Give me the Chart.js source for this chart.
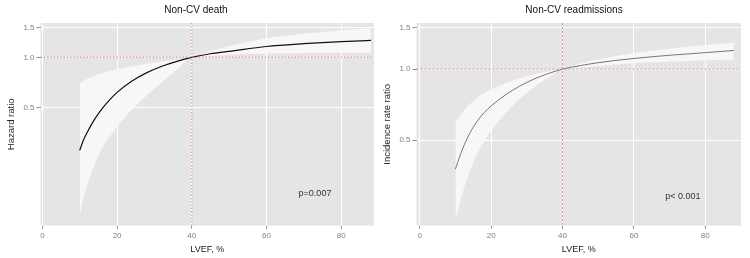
<!DOCTYPE html>
<html>
<head>
<meta charset="utf-8">
<script src="https://cdn.jsdelivr.net/npm/chart.js@4.4.1/dist/chart.umd.min.js"></script>
<style>
  body { margin: 0; background: #fff; }
  #wrap { display: flex; width: 750px; height: 258px; }
  canvas { display: block; }
</style>
</head>
<body>
<div id="wrap">
  <canvas id="death" width="375" height="258"></canvas>
  <canvas id="readm" width="375" height="258"></canvas>
</div>
<script>
var lvef = [10, 11, 12, 14, 16, 18, 20, 24, 28, 32, 36, 40, 45, 50, 60, 70, 80, 88];

// Non-CV death: hazard ratio with confidence band
var deathHR = [0.28, 0.323, 0.358, 0.429, 0.496, 0.559, 0.619, 0.723, 0.811, 0.885, 0.947, 1.0, 1.05, 1.085, 1.16, 1.205, 1.24, 1.26];
var deathLo = [0.115, 0.147, 0.175, 0.232, 0.286, 0.337, 0.388, 0.49, 0.596, 0.713, 0.847, 1.0, 1.02, 1.04, 1.055, 1.06, 1.065, 1.065];
var deathHi = [0.70, 0.725, 0.745, 0.78, 0.808, 0.83, 0.85, 0.885, 0.915, 0.945, 0.97, 1.0, 1.09, 1.165, 1.30, 1.38, 1.445, 1.49];

// Non-CV readmissions: incidence rate ratio with confidence band
var readmIRR = [0.376, 0.417, 0.458, 0.534, 0.598, 0.652, 0.698, 0.777, 0.847, 0.907, 0.957, 1.0, 1.035, 1.065, 1.11, 1.145, 1.175, 1.20];
var readmLo = [0.225, 0.262, 0.298, 0.368, 0.433, 0.493, 0.548, 0.65, 0.747, 0.837, 0.921, 1.0, 1.015, 1.03, 1.06, 1.075, 1.09, 1.10];
var readmHi = [0.595, 0.628, 0.658, 0.71, 0.753, 0.79, 0.82, 0.871, 0.914, 0.949, 0.977, 1.0, 1.06, 1.10, 1.17, 1.22, 1.265, 1.295];

var xTicks = [0, 20, 40, 60, 80];
var yTicks = [0.5, 1.0, 1.5];

function pts(ys) {
  return lvef.map(function (x, i) { return { x: x, y: ys[i] }; });
}

var FONT = "'Liberation Sans', Arial, sans-serif";

var panelBg = {
  id: 'panelBg',
  beforeDraw: function (chart) {
    var a = chart.chartArea, ctx = chart.ctx;
    ctx.save();
    ctx.fillStyle = '#e5e5e5';
    ctx.fillRect(a.left, a.top, a.right - a.left, a.bottom - a.top);
    ctx.restore();
  }
};

var refLines = {
  id: 'refLines',
  afterDatasetsDraw: function (chart, args, opts) {
    var a = chart.chartArea, ctx = chart.ctx;
    var px = chart.scales.x.getPixelForValue(40);
    var py = chart.scales.y.getPixelForValue(1);
    ctx.save();
    ctx.strokeStyle = opts.color;
    ctx.lineWidth = opts.width;
    ctx.setLineDash(opts.dash);
    ctx.beginPath();
    ctx.moveTo(a.left, py); ctx.lineTo(a.right, py);
    ctx.moveTo(px, a.top); ctx.lineTo(px, a.bottom);
    ctx.stroke();
    ctx.restore();
  }
};

var notes = {
  id: 'notes',
  afterDraw: function (chart, args, opts) {
    var ctx = chart.ctx;
    ctx.save();
    ctx.textAlign = 'center';
    ctx.textBaseline = 'middle';
    ctx.fillStyle = '#111';
    ctx.font = '10px ' + FONT;
    ctx.fillText(opts.title, opts.titleX, 10);
    ctx.fillStyle = '#333';
    ctx.font = '9px ' + FONT;
    ctx.fillText(opts.p, chart.scales.x.getPixelForValue(opts.pAt[0]), chart.scales.y.getPixelForValue(opts.pAt[1]));
    ctx.restore();
  }
};

function panel(id, c) {
  var smooth = { pointRadius: 0, cubicInterpolationMode: 'monotone' };
  return new Chart(document.getElementById(id), {
    type: 'line',
    data: {
      datasets: [
        Object.assign({ data: pts(c.hi), order: 2, fill: '+1', backgroundColor: '#f7f7f7', borderColor: 'rgba(0,0,0,0)', borderWidth: 0 }, smooth),
        Object.assign({ data: pts(c.lo), order: 1, fill: false, borderColor: 'rgba(0,0,0,0)', borderWidth: 0 }, smooth),
        Object.assign({ data: pts(c.mid), order: 0, fill: false, borderColor: c.lineColor, borderWidth: c.lineWidth }, smooth)
      ]
    },
    options: {
      responsive: false,
      animation: false,
      layout: { padding: c.padding },
      plugins: {
        legend: { display: false },
        tooltip: { enabled: false },
        title: { display: false },
        filler: { drawTime: 'beforeDatasetsDraw' },
        refLines: c.ref,
        notes: { title: c.title, titleX: c.titleX, p: c.p, pAt: c.pAt }
      },
      scales: {
        x: {
          type: 'linear',
          min: c.xMin, max: c.xMax,
          afterBuildTicks: function (s) { s.ticks = xTicks.map(function (v) { return { value: v }; }); },
          ticks: { color: '#7f7f7f', font: { size: 8, family: FONT }, padding: 2, maxRotation: 0,
                   callback: function (v) { return String(v); } },
          grid: { color: '#ffffff', lineWidth: 1, tickColor: '#8a8a8a', tickLength: 3 },
          border: { display: false },
          title: { display: true, text: 'LVEF, %', color: '#222', font: { size: 9, family: FONT }, padding: { top: 2, bottom: 2 } }
        },
        y: {
          type: 'logarithmic',
          min: c.yMin, max: c.yMax,
          bounds: 'data',
          afterBuildTicks: function (s) { s.ticks = yTicks.map(function (v) { return { value: v }; }); },
          ticks: { color: '#7f7f7f', font: { size: 8, family: FONT }, padding: 2,
                   callback: function (v) { return Number(v).toFixed(1); } },
          grid: { color: '#ffffff', lineWidth: 1, tickColor: '#8a8a8a', tickLength: 4 },
          border: { display: false },
          title: { display: true, text: c.yTitle, color: '#222', font: { size: 9.5, family: FONT }, padding: { top: 2, bottom: 4 } }
        }
      }
    },
    plugins: [panelBg, refLines, notes]
  });
}

panel('death', {
  title: 'Non-CV death', titleX: 196,
  yTitle: 'Hazard ratio',
  mid: deathHR, lo: deathLo, hi: deathHi,
  lineColor: '#111', lineWidth: 1.2,
  xMin: -0.5, xMax: 88.8, yMin: 0.1, yMax: 1.6,
  p: 'p=0.007', pAt: [73, 0.155],
  ref: { color: '#dc8585', width: 1.2, dash: [1.3, 2] },
  padding: { left: 4, right: 1, top: 23, bottom: 1 }
});

panel('readm', {
  title: 'Non-CV readmissions', titleX: 199,
  yTitle: 'Incidence rate ratio',
  mid: readmIRR, lo: readmLo, hi: readmHi,
  lineColor: '#555', lineWidth: 0.8,
  xMin: -0.9, xMax: 90, yMin: 0.2165, yMax: 1.57,
  p: 'p< 0.001', pAt: [73.7, 0.289],
  ref: { color: '#dc8585', width: 0.9, dash: [2, 2] },
  padding: { left: 5, right: 9, top: 23, bottom: 1 }
});
</script>
</body>
</html>
